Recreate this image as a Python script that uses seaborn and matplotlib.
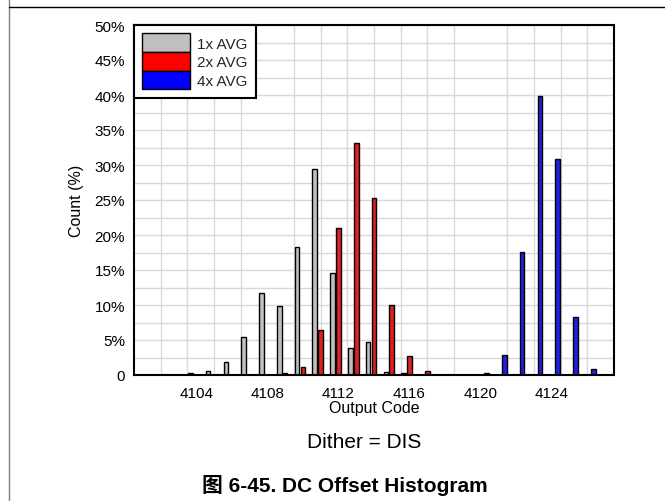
import matplotlib
matplotlib.use("Agg")
import matplotlib.pyplot as plt
from matplotlib.lines import Line2D
from matplotlib.patches import Patch
import numpy as np
import pandas as pd
import seaborn as sns

# ---------------- data ----------------
series_names = ["1x AVG", "2x AVG", "4x AVG"]
series_colors = ["#C0C0C0", "#FF0000", "#0000FF"]

codes_1x = [4103, 4104, 4105, 4106, 4107, 4108, 4109, 4110, 4111, 4112, 4113, 4114, 4115, 4116]
vals_1x = [0.05, 0.25, 0.55, 1.9, 5.5, 11.7, 9.9, 18.3, 29.4, 14.6, 3.8, 4.75, 0.4, 0.25]

codes_2x = [4109, 4110, 4111, 4112, 4113, 4114, 4115, 4116, 4117, 4118]
vals_2x = [0.25, 1.1, 6.45, 21.0, 33.2, 25.3, 10.0, 2.75, 0.6, 0.05]

codes_4x = [4120, 4121, 4122, 4123, 4124, 4125, 4126, 4127]
vals_4x = [0.25, 2.85, 17.6, 39.9, 30.8, 8.3, 0.85, 0.05]

x_tick_values = [4104, 4108, 4112, 4116, 4120, 4124]
y_tick_values = [0, 5, 10, 15, 20, 25, 30, 35, 40, 45, 50]
y_tick_labels = ["0", "5%", "10%", "15%", "20%", "25%", "30%", "35%", "40%", "45%", "50%"]

x_label = "Output Code"
y_label = "Count (%)"
subtitle = "Dither = DIS"
caption = "图 6-45. DC Offset Histogram"

# ---------------- build table ----------------
df = pd.concat([
    pd.DataFrame({"code": codes_1x, "value": vals_1x, "series": series_names[0]}),
    pd.DataFrame({"code": codes_2x, "value": vals_2x, "series": series_names[1]}),
    pd.DataFrame({"code": codes_4x, "value": vals_4x, "series": series_names[2]}),
], ignore_index=True)

sns.set_theme(style="white")
plt.rcParams["font.family"] = ["Liberation Sans", "DejaVu Sans"]

W, H = 665, 502
fig = plt.figure(figsize=(W / 100, H / 100), dpi=100)
ax = fig.add_axes([134 / W, 1 - 376 / H, 480 / W, 350 / H])

sns.barplot(
    data=df, x="code", y="value", hue="series",
    hue_order=series_names,
    palette=dict(zip(series_names, series_colors)),
    native_scale=True, width=1.0, gap=0.21, dodge=True,
    errorbar=None, edgecolor="black", linewidth=1.0,
    legend=False, ax=ax, zorder=2,
)

ax.set_xlim(4100.5, 4127.5)
ax.set_ylim(0, 50)
ax.set_xticks(x_tick_values)
ax.set_xticklabels([str(v) for v in x_tick_values])
ax.set_xticks(np.arange(4102, 4126.1, 1.5), minor=True)
ax.set_yticks(y_tick_values)
ax.set_yticklabels(y_tick_labels)
ax.set_yticks(np.arange(2.5, 50, 5), minor=True)

ax.set_axisbelow(True)
ax.xaxis.grid(True, which="minor", color="#D9D9D9", linewidth=1.0)
ax.xaxis.grid(False, which="major")
ax.yaxis.grid(True, which="both", color="#D9D9D9", linewidth=1.0)

ax.tick_params(axis="both", which="both", length=0)
ax.tick_params(axis="x", which="major", labelsize=11, pad=8, colors="black")
ax.tick_params(axis="y", which="major", labelsize=11, pad=6.5, colors="black")

for s in ax.spines.values():
    s.set_visible(True)
    s.set_color("black")
    s.set_linewidth(1.5)

ax.set_xlabel("")
ax.set_ylabel("")

fig.text(374 / W, 1 - 409 / H, x_label, ha="center", va="center", fontsize=11.5, color="black")
fig.text(76 / W, 1 - 201 / H, y_label, ha="center", va="center", rotation=90, fontsize=11.5, color="black")
fig.text(364 / W, 1 - 443 / H, subtitle, ha="center", va="center", fontsize=15, color="black")
fig.text(345 / W, 1 - 486 / H, caption, ha="center", va="center", fontsize=15, fontweight="bold",
         family=["Liberation Sans", "Noto Sans CJK SC"], color="black")

handles = [Patch(facecolor=c, edgecolor="black", linewidth=1.0) for c in series_colors]
leg = ax.legend(handles, series_names, loc="upper left", bbox_to_anchor=(0, 1),
                borderaxespad=0, fontsize=11, handlelength=3.1, handleheight=1.5,
                labelspacing=0, handletextpad=0.5, borderpad=0.55,
                fancybox=False, framealpha=1, edgecolor="black")
leg.get_frame().set_linewidth(1.5)

# page frame lines
fig.add_artist(Line2D([9 / W, 9 / W], [0, 1], transform=fig.transFigure, color="#808080", linewidth=1.0))
fig.add_artist(Line2D([9 / W, 1], [1 - 8 / H, 1 - 8 / H], transform=fig.transFigure, color="black", linewidth=1.0))

fig.savefig("out.png", dpi=100)
